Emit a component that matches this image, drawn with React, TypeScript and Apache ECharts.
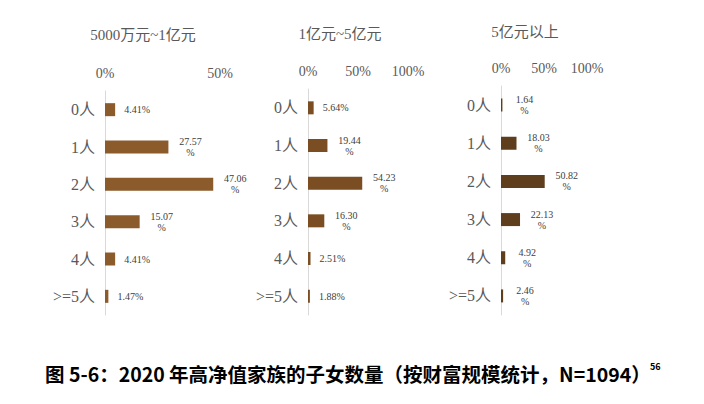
import React, { useEffect, useRef } from "react";
import * as echarts from "echarts";

const categories = ["0人", "1人", "2人", "3人", "4人", ">=5人"];
const panelTitles = ["5000万元~1亿元", "1亿元~5亿元", "5亿元以上"];
const values1 = [4.41, 27.57, 47.06, 15.07, 4.41, 1.47];
const values2 = [5.64, 19.44, 54.23, 16.3, 2.51, 1.88];
const values3 = [1.64, 18.03, 50.82, 22.13, 4.92, 2.46];
const wrap1 = [false, true, true, true, false, false];
const wrap2 = [false, true, true, true, false, false];
const wrap3 = [true, true, true, true, true, true];
const axisMax = [50, 100, 100];
const caption = "图 5-6：2020 年高净值家族的子女数量（按财富规模统计，N=1094）";
const footnote = "56";

const barColors = ["#8B5B2C", "#7A4E22", "#5F3E1E"];
const grids = [
  { left: 105, top: 91, width: 115, height: 224 },
  { left: 308, top: 89, width: 100, height: 226 },
  { left: 501, top: 86, width: 86, height: 229 },
];
const titlePos = [
  { x: 143, y: 35 },
  { x: 340, y: 34 },
  { x: 525, y: 32 },
];

const serif = "'Liberation Serif', 'Noto Sans CJK SC', serif";

export default function App() {
  const ref = useRef<HTMLDivElement>(null);
  useEffect(() => {
    if (!ref.current) return;
    const chart = echarts.init(ref.current, undefined, { renderer: "svg" });
    const allValues = [values1, values2, values3];
    const wraps = [wrap1, wrap2, wrap3];
    const option: any = {
      animation: false,
      backgroundColor: "#ffffff",
      grid: grids.map((g) => ({ ...g, containLabel: false })),
      xAxis: grids.map((_, i) => ({
        type: "value",
        gridIndex: i,
        position: "top",
        min: 0,
        max: axisMax[i],
        interval: 50,
        axisLine: { show: false },
        axisTick: { show: false },
        splitLine: { show: false },
        axisLabel: {
          formatter: "{value}%",
          color: "#595959",
          fontSize: 14,
          fontFamily: serif,
          margin: 11,
          showMaxLabel: true,
        },
      })),
      yAxis: grids.map((_, i) => ({
        type: "category",
        gridIndex: i,
        inverse: true,
        data: categories,
        axisLine: { show: true, lineStyle: { color: "#D9D9D9", width: 1 } },
        axisTick: { show: false },
        axisLabel: {
          color: "#595959",
          fontSize: 16,
          fontFamily: serif,
          margin: 10,
        },
      })),
      series: allValues.map((vals, i) => ({
        type: "bar",
        xAxisIndex: i,
        yAxisIndex: i,
        barWidth: 13,
        data: vals,
        itemStyle: { color: barColors[i] },
        label: {
          show: true,
          position: "right",
          distance: 22,
          align: "center",
          verticalAlign: "middle",
          fontSize: 10,
          lineHeight: 11,
          color: "#404040",
          fontFamily: serif,
          formatter: (p: any) => {
            const t = vals[p.dataIndex].toFixed(2);
            return wraps[i][p.dataIndex] ? t + "\n%" : t + "%";
          },
        },
      })),
      graphic: [
        ...panelTitles.map((t, i) => ({
          type: "text",
          x: titlePos[i].x,
          y: titlePos[i].y,
          style: {
            text: t,
            fill: "#595959",
            fontSize: 15,
            fontFamily: serif,
            align: "center",
            verticalAlign: "middle",
          },
        })),
        {
          type: "text",
          x: 45,
          y: 373,
          style: {
            text: caption,
            fill: "#000000",
            fontSize: 19.5,
            fontWeight: "bold",
            fontFamily: "'Noto Sans CJK SC', sans-serif",
            verticalAlign: "middle",
          },
        },
        {
          type: "text",
          x: 650,
          y: 366,
          style: {
            text: footnote,
            fill: "#000000",
            fontSize: 9,
            fontWeight: "bold",
            fontFamily: "'Noto Sans CJK SC', sans-serif",
            verticalAlign: "middle",
          },
        },
      ],
    };
    chart.setOption(option);
    return () => chart.dispose();
  }, []);
  return (
    <div
      ref={ref}
      style={{ position: "fixed", left: 0, top: 0, width: 704, height: 404, background: "#fff" }}
    />
  );
}
